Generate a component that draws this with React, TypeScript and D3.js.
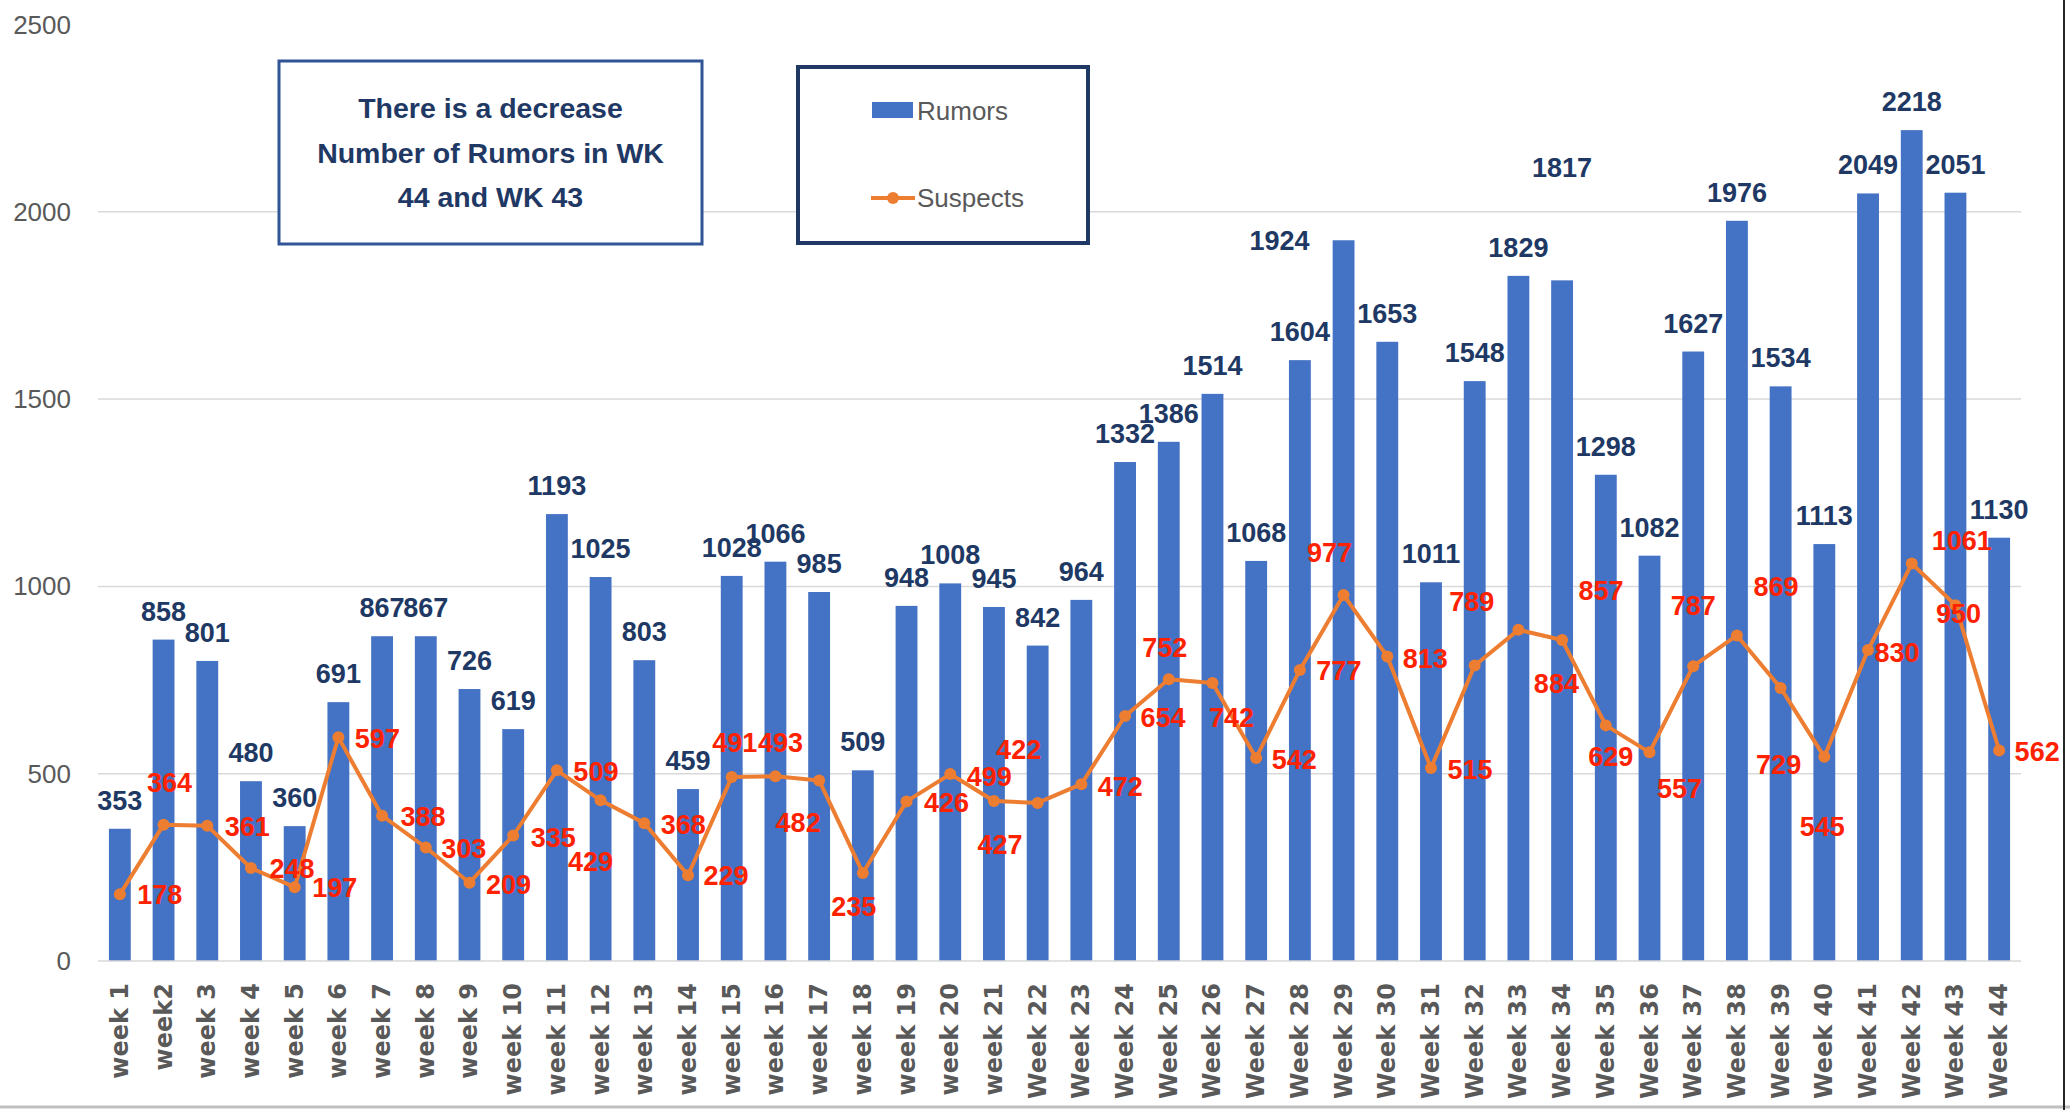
import React from 'react';
import * as d3 from 'd3';

// Weekly counts of rumors (bars) and suspects (line)
const weeks = [
  'week 1', 'week2', 'week 3', 'week 4', 'week 5', 'week 6', 'week 7', 'week 8', 'week 9', 'week 10',
  'week 11', 'week 12', 'week 13', 'week 14', 'week 15', 'week 16', 'week 17', 'week 18', 'week 19', 'week 20',
  'week 21', 'Week 22', 'Week 23', 'Week 24', 'Week 25', 'Week 26', 'Week 27', 'Week 28', 'Week 29', 'Week 30',
  'Week 31', 'Week 32', 'Week 33', 'Week 34', 'Week 35', 'Week 36', 'Week 37', 'Week 38', 'Week 39', 'Week 40',
  'Week 41', 'Week 42', 'Week 43', 'Week 44',
];

const rumors = [
  353, 858, 801, 480, 360, 691, 867, 867, 726, 619,
  1193, 1025, 803, 459, 1028, 1066, 985, 509, 948, 1008,
  945, 842, 964, 1332, 1386, 1514, 1068, 1604, 1924, 1653,
  1011, 1548, 1829, 1817, 1298, 1082, 1627, 1976, 1534, 1113,
  2049, 2218, 2051, 1130,
];

const suspects = [
  178, 364, 361, 248, 197, 597, 388, 303, 209, 335,
  509, 429, 368, 229, 491, 493, 482, 235, 426, 499,
  427, 422, 472, 654, 752, 742, 542, 777, 977, 813,
  515, 789, 884, 857, 629, 557, 787, 869, 729, 545,
  830, 1061, 950, 562,
];

const yTicks = [0, 500, 1000, 1500, 2000, 2500];

const noteLines = ['There is a decrease', 'Number of Rumors in WK', '44 and WK 43'];

// hand-nudged label placements (as in the source workbook), [dx, dy] from the point
const suspectLabelNudge: [number, number][] = [
  [40, 1], [6, -42], [40, 1], [41, 1], [40, 1], [39, 2], [41, 1], [38, 2], [39, 2], [40, 2],
  [39, 2], [-10, 62], [39, 2], [38, 1], [3, -34], [5, -33], [-21, 43], [-9, 34], [40, 2], [39, 3],
  [6, 44], [-19, -53], [39, 3], [38, 2], [-4, -31], [19, 35], [38, 2], [39, 1], [-14, -42], [38, 3],
  [39, 2], [-3, -63], [38, 54], [39, -49], [5, 32], [30, 37], [0, -60], [39, -48], [-2, 77], [-2, 70],
  [29, 3], [50, -23], [3, 9], [38, 2],
];
const rumorLabelNudge: Record<number, [number, number]> = {
  28: [-64, 29],
  33: [0, -84],
};

const W = 2070;
const H = 1110;
const LABEL_FONT = '"Liberation Sans", Arial, sans-serif';

export default function App() {
  const x = d3.scaleBand<string>()
    .domain(weeks)
    .range([98, 2021])
    .paddingInner(0.5)
    .paddingOuter(0.25);
  const y = d3.scaleLinear().domain([0, 2500]).range([961, 24.5]);

  const cx = (i: number) => (x(weeks[i]) as number) + x.bandwidth() / 2;

  const line = d3.line<number>()
    .x((_, i) => cx(i))
    .y(d => y(d));

  return (
    <svg
      width={W}
      height={H}
      style={{ position: 'absolute', left: 0, top: 0, background: '#fff' }}
    >
      {/* gridlines + y labels (no line drawn at the top tick) */}
      {yTicks.map(t => (
        <g key={t}>
          {t > 0 && t < 2500 && (
            <line x1={98} x2={2021} y1={y(t)} y2={y(t)} stroke="#d9d9d9" strokeWidth={1.5} />
          )}
          <text
            x={71}
            y={y(t)}
            textAnchor="end"
            dominantBaseline="central"
            fontFamily={LABEL_FONT}
            fontSize={26}
            fill="#595959"
          >
            {t}
          </text>
        </g>
      ))}

      {/* bars */}
      {rumors.map((v, i) => (
        <rect
          key={weeks[i]}
          x={x(weeks[i])}
          y={y(v)}
          width={x.bandwidth()}
          height={y(0) - y(v)}
          fill="#4472c4"
        />
      ))}

      {/* axis baseline */}
      <line x1={98} x2={2021} y1={y(0)} y2={y(0)} stroke="#d9d9d9" strokeWidth={1.5} />

      {/* suspects line */}
      <path d={line(suspects) || ''} fill="none" stroke="#ed7d31" strokeWidth={4} strokeLinejoin="round" />
      {suspects.map((v, i) => (
        <circle key={i} cx={cx(i)} cy={y(v)} r={6} fill="#ed7d31" />
      ))}

      {/* rumors labels */}
      {rumors.map((v, i) => {
        const [dx, dy] = rumorLabelNudge[i] || [0, 0];
        return (
          <text
            key={i}
            x={cx(i) + dx}
            y={y(v) - 19 + dy}
            textAnchor="middle"
            fontFamily={LABEL_FONT}
            fontWeight="bold"
            fontSize={27}
            fill="#203864"
          >
            {v}
          </text>
        );
      })}

      {/* suspects labels */}
      {suspects.map((v, i) => {
        const [dx, dy] = suspectLabelNudge[i];
        return (
          <text
            key={i}
            x={cx(i) + dx}
            y={y(v) + dy}
            textAnchor="middle"
            dominantBaseline="central"
            fontFamily={LABEL_FONT}
            fontWeight="bold"
            fontSize={27}
            fill="#ff2200"
          >
            {v}
          </text>
        );
      })}

      {/* x labels */}
      {weeks.map((w, i) => (
        <text
          key={w}
          transform={`translate(${cx(i)},983) rotate(-90)`}
          textAnchor="end"
          dominantBaseline="central"
          fontFamily='"DejaVu Sans", Verdana, sans-serif'
          fontWeight="bold"
          fontSize={24}
          fill="#595959"
        >
          {w}
        </text>
      ))}

      {/* note box */}
      <rect x={279} y={61} width={423} height={183} fill="#fff" stroke="#2f5597" strokeWidth={3} />
      {noteLines.map((t, i) => (
        <text
          key={t}
          x={490.5}
          y={108 + i * 44.5}
          textAnchor="middle"
          dominantBaseline="central"
          fontFamily={LABEL_FONT}
          fontWeight="bold"
          fontSize={28.5}
          fill="#1f3864"
        >
          {t}
        </text>
      ))}

      {/* legend */}
      <rect x={798} y={67} width={290} height={176} fill="#fff" stroke="#1f3864" strokeWidth={4} />
      <rect x={872} y={102} width={41} height={16} fill="#4472c4" />
      <text x={917} y={111} dominantBaseline="central" fontFamily={LABEL_FONT} fontSize={26} fill="#595959">
        Rumors
      </text>
      <line x1={871} x2={915} y1={198} y2={198} stroke="#ed7d31" strokeWidth={4} />
      <circle cx={893} cy={198} r={6} fill="#ed7d31" />
      <text x={917} y={198} dominantBaseline="central" fontFamily={LABEL_FONT} fontSize={26} fill="#595959">
        Suspects
      </text>

      {/* frame edges */}
      <line x1={0} x2={W} y1={1107} y2={1107} stroke="#bfbfbf" strokeWidth={3} />
      <line x1={2064} x2={2064} y1={0} y2={1110} stroke="#262626" strokeWidth={2} />
    </svg>
  );
}
